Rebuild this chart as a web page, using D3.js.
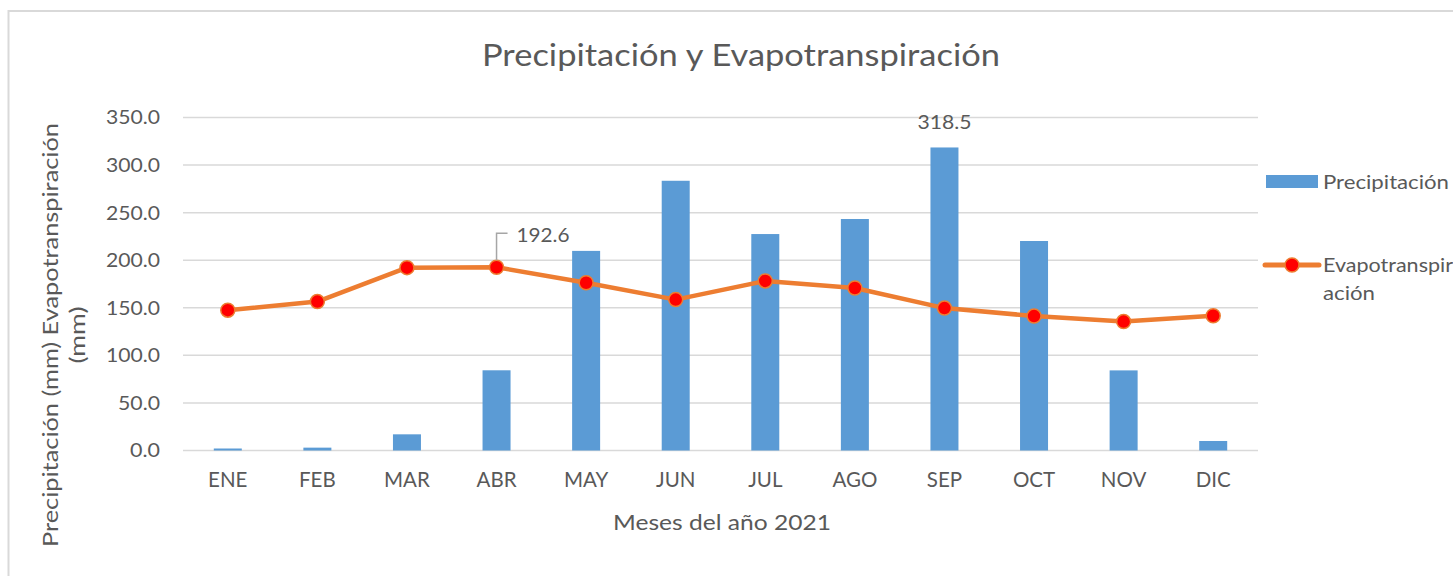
<!DOCTYPE html>
<html>
<head>
<meta charset="utf-8">
<script src="https://cdn.jsdelivr.net/npm/d3@7"></script>
<style>
  body { margin: 0; background: #fff; }
  svg text { font-family: Lato, "Open Sans", sans-serif; fill: #595959; }
</style>
</head>
<body>
<svg id="chart" width="1453" height="576"></svg>
<script>
// months on the x axis
var months = ['ENE', 'FEB', 'MAR', 'ABR', 'MAY', 'JUN', 'JUL', 'AGO', 'SEP', 'OCT', 'NOV', 'DIC'];
// precipitation (mm)
var precip = [2.1, 3.0, 17.0, 84.3, 209.8, 283.5, 227.5, 243.3, 318.5, 220.2, 84.2, 10.0];
// evapotranspiration (mm)
var evapo = [147.5, 156.5, 192.2, 192.6, 176.3, 158.6, 178.2, 170.8, 149.7, 141.3, 135.5, 141.6];
// y axis ticks
var yTicks = [0, 50, 100, 150, 200, 250, 300, 350];

var svg = d3.select('#chart');

// the reference font is wider than Lato, so stretch text a little
function stretch(sel, len) {
  sel.attr('textLength', len).attr('lengthAdjust', 'spacingAndGlyphs');
}

// chart border
svg.append('rect')
  .attr('x', 8.5).attr('y', 11).attr('width', 1460).attr('height', 580)
  .attr('fill', 'none').attr('stroke', '#d9d9d9').attr('stroke-width', 2);

var x = d3.scaleBand().domain(months).range([183, 1258]);
var y = d3.scaleLinear().domain([0, 350]).range([450.5, 117.5]);
var barW = 28;

// gridlines
svg.append('g').selectAll('line')
  .data(yTicks)
  .enter().append('line')
  .attr('x1', 183).attr('x2', 1258)
  .attr('y1', function(d) { return y(d); })
  .attr('y2', function(d) { return y(d); })
  .attr('stroke', '#d9d9d9').attr('stroke-width', 1.5);

// y axis labels
var fmt = d3.format('.1f');
var yAxis = svg.append('g')
  .attr('transform', 'translate(183,0)')
  .call(d3.axisLeft(y).tickValues(yTicks).tickFormat(fmt).tickSize(0).tickPadding(23));
yAxis.select('.domain').remove();
yAxis.selectAll('text')
  .style('font-size', '20px').attr('fill', '#595959')
  .attr('textLength', function(d) { return (fmt(d).length - 1) * 12 + 6; })
  .attr('lengthAdjust', 'spacingAndGlyphs');

// x axis labels
var xAxis = svg.append('g')
  .attr('transform', 'translate(0,451)')
  .call(d3.axisBottom(x).tickSize(0).tickPadding(21));
xAxis.select('.domain').remove();
xAxis.selectAll('text').style('font-size', '20.5px').attr('fill', '#595959');

// bars
svg.append('g').selectAll('rect')
  .data(precip)
  .enter().append('rect')
  .attr('x', function(d, i) { return x(months[i]) + x.bandwidth() / 2 - barW / 2; })
  .attr('y', function(d) { return y(d); })
  .attr('width', barW)
  .attr('height', function(d) { return y(0) - y(d); })
  .attr('fill', '#5b9bd5');

// line
var line = d3.line()
  .x(function(d, i) { return x(months[i]) + x.bandwidth() / 2; })
  .y(function(d) { return y(d); });

svg.append('path')
  .datum(evapo)
  .attr('d', line)
  .attr('fill', 'none')
  .attr('stroke', '#ed7d31')
  .attr('stroke-width', 4.5)
  .attr('stroke-linejoin', 'round');

svg.append('g').selectAll('circle')
  .data(evapo)
  .enter().append('circle')
  .attr('cx', function(d, i) { return x(months[i]) + x.bandwidth() / 2; })
  .attr('cy', function(d) { return y(d); })
  .attr('r', 7)
  .attr('fill', '#ff0000')
  .attr('stroke', '#ed7d31')
  .attr('stroke-width', 1.5);

// data label for SEP precipitation
var sepX = x('SEP') + x.bandwidth() / 2;
svg.append('text')
  .attr('x', sepX).attr('y', y(precip[8]) - 18)
  .attr('text-anchor', 'middle')
  .style('font-size', '20px').attr('fill', '#404040')
  .call(stretch, 54)
  .text(precip[8].toFixed(1));

// data label for ABR evapotranspiration with leader line
var abrX = x('ABR') + x.bandwidth() / 2;
var abrY = y(evapo[3]);
svg.append('path')
  .attr('d', 'M' + abrX + ',' + (abrY - 7) + 'V' + (abrY - 34) + 'H' + (abrX + 11))
  .attr('fill', 'none').attr('stroke', '#a6a6a6').attr('stroke-width', 1.5);
svg.append('text')
  .attr('x', abrX + 20).attr('y', abrY - 25)
  .style('font-size', '20px').attr('fill', '#404040')
  .call(stretch, 53)
  .text(evapo[3].toFixed(1));

// title
svg.append('text')
  .attr('x', 741).attr('y', 66)
  .attr('text-anchor', 'middle')
  .style('font-size', '31px')
  .call(stretch, 518)
  .text('Precipitación y Evapotranspiración');

// x axis title
svg.append('text')
  .attr('x', 722).attr('y', 530)
  .attr('text-anchor', 'middle')
  .style('font-size', '22px')
  .call(stretch, 218)
  .text('Meses del año 2021');

// y axis title, two lines
var yt = svg.append('text')
  .attr('transform', 'translate(58,335) rotate(-90)')
  .attr('text-anchor', 'middle')
  .style('font-size', '22px');
yt.append('tspan').attr('x', 0).attr('y', 0)
  .call(stretch, 424)
  .text('Precipitación (mm) Evapotranspiración');
yt.append('tspan').attr('x', 0).attr('y', 27)
  .call(stretch, 57)
  .text('(mm)');

// legend
svg.append('rect')
  .attr('x', 1266).attr('y', 175).attr('width', 52).attr('height', 13)
  .attr('fill', '#5b9bd5');
svg.append('text')
  .attr('x', 1323).attr('y', 189)
  .style('font-size', '20px')
  .call(stretch, 126)
  .text('Precipitación');

svg.append('line')
  .attr('x1', 1265).attr('x2', 1319).attr('y1', 265).attr('y2', 265)
  .attr('stroke', '#ed7d31').attr('stroke-width', 5).attr('stroke-linecap', 'round');
svg.append('circle')
  .attr('cx', 1292).attr('cy', 265).attr('r', 7)
  .attr('fill', '#ff0000').attr('stroke', '#ed7d31').attr('stroke-width', 1.5);
svg.append('text')
  .attr('x', 1323).attr('y', 272)
  .style('font-size', '20px')
  .call(stretch, 130)
  .text('Evapotranspir');
svg.append('text')
  .attr('x', 1323).attr('y', 300)
  .style('font-size', '20px')
  .call(stretch, 52)
  .text('ación');
</script>
</body>
</html>
